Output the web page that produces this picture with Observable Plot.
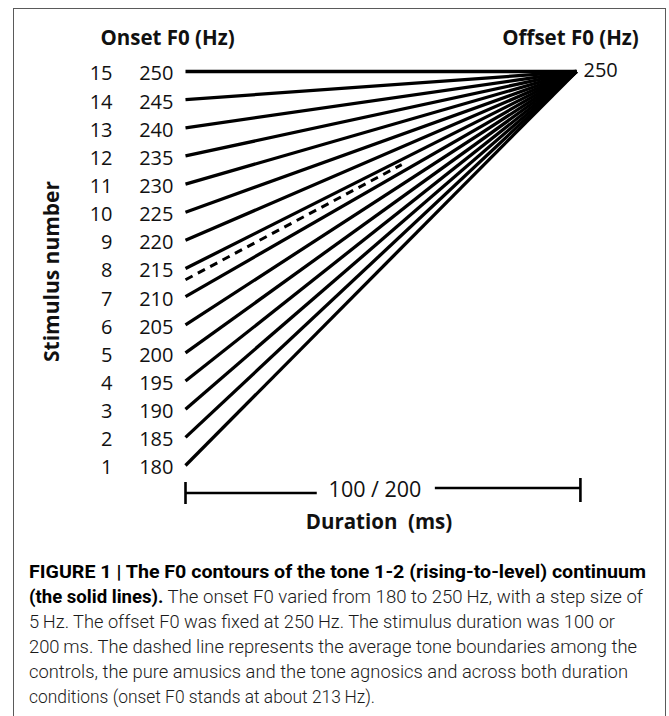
<!DOCTYPE html>
<html><head><meta charset="utf-8">
<script src="https://cdn.jsdelivr.net/npm/d3@7"></script>
<script src="https://cdn.jsdelivr.net/npm/@observablehq/plot@0.6"></script>
<style>
html,body{margin:0;padding:0;background:#fff;width:669px;height:716px;overflow:hidden;}
#frame{position:absolute;left:13px;top:8px;width:651px;height:760px;border:1.5px solid #5a5a5a;border-bottom:none;}
#chart{position:absolute;left:0;top:0;}
#caption{position:absolute;left:29px;top:560px;font-family:Roboto,"Liberation Sans",sans-serif;font-size:18.5px;color:#1a1a1a;white-space:nowrap;}
#caption div{height:25px;line-height:25px;transform-origin:0 50%;width:max-content;}
#caption b{font-weight:700;color:#000}
#caption span{font-weight:300}
</style></head><body>
<div id="frame"></div><div id="chart"></div><div id="caption"></div>
<script>
// ---- data ----
const stimulusNumbers = [1, 2, 3, 4, 5, 6, 7, 8, 9, 10, 11, 12, 13, 14, 15];
const onsetF0 = [180, 185, 190, 195, 200, 205, 210, 215, 220, 225, 230, 235, 240, 245, 250];
const offsetF0 = 250;
const boundaryOnsetF0 = 213;          // dashed line (average tone boundary)
const boundaryEndFraction = 0.553;    // dashed line stops part-way along the duration
const durationLabel = "100 / 200";
const titles = {onset: "Onset F0 (Hz)", offset: "Offset F0 (Hz)", stimulus: "Stimulus number", duration: "Duration  (ms)"};
const captionLines = [
  ["FIGURE 1 | The F0 contours of the tone 1-2 (rising-to-level) continuum", ""],
  ["(the solid lines).", " The onset F0 varied from 180 to 250\u2009Hz, with a step size of"],
  ["", "5\u2009Hz. The offset F0 was fixed at 250\u2009Hz. The stimulus duration was 100 or"],
  ["", "200\u2009ms. The dashed line represents the average tone boundaries among the"],
  ["", "controls, the pure amusics and the tone agnosics and across both duration"],
  ["", "conditions (onset F0 stands at about 213\u2009Hz)."]
];
const captionLineWidths = [617, 614, 586, 608, 599, 346];

// ---- derived tables ----
const contours = stimulusNumbers.map((s, i) => ({stimulus: s, onset: onsetF0[i], offset: offsetF0}));
const dashed = [{
  x1: 0, y1: boundaryOnsetF0,
  x2: boundaryEndFraction, y2: boundaryOnsetF0 + boundaryEndFraction * (offsetF0 - boundaryOnsetF0)
}];
const yMin = d3.min(onsetF0), yMax = d3.max(onsetF0);

const ink = "#111";
const plot = Plot.plot({
  width: 669, height: 560,
  marginLeft: 185, marginRight: 93, marginTop: 71, marginBottom: 95,
  x: {domain: [0, 1], axis: null},
  y: {domain: [yMin, yMax], axis: null},
  style: {fontFamily: "'Open Sans', sans-serif", background: "transparent", overflow: "visible", color: ink},
  marks: [
    Plot.link(contours, {x1: () => 0, y1: "onset", x2: () => 1, y2: "offset", stroke: "#000", strokeWidth: 3.3}),
    Plot.link(dashed, {x1: "x1", y1: "y1", x2: "x2", y2: "y2", stroke: "#000", strokeWidth: 3, strokeDasharray: "8,6"}),
    Plot.text(contours, {x: () => 0, y: "onset", text: d => String(d.stimulus), textAnchor: "end", dx: -73, dy: 2.5, fontSize: 20, fill: ink}),
    Plot.text(contours, {x: () => 0, y: "onset", text: d => String(d.onset), textAnchor: "end", dx: -12, dy: 2.5, fontSize: 20, fill: ink}),
    Plot.text([offsetF0], {x: () => 1, y: d => d, text: d => String(d), textAnchor: "start", dx: 7, dy: -1, fontSize: 20, fill: ink}),
    Plot.text([titles.onset], {x: () => 0, y: () => yMax, text: d => d, dx: -18, dy: -33, fontSize: 20.5, fontWeight: "bold", fill: ink}),
    Plot.text([titles.offset], {x: () => 1, y: () => yMax, text: d => d, dx: -6, dy: -33, fontSize: 20.5, fontWeight: "bold", fill: ink}),
    Plot.text([titles.stimulus], {x: () => 0, y: () => 215, text: d => d, rotate: -90, dx: -133, dy: 3, fontSize: 21, fontWeight: "bold", fill: ink}),
    // duration bracket
    Plot.ruleY([yMin], {y: d => d, x1: () => 0, x2: () => 0.337, dy: 27.5, strokeWidth: 2.6, stroke: "#000"}),
    Plot.ruleY([yMin], {y: d => d, x1: () => 0.639, x2: () => 1.01, dy: 22.5, strokeWidth: 2.6, stroke: "#000"}),
    Plot.tickX([0], {x: d => d, insetTop: 411, insetBottom: -39, strokeWidth: 2.6, stroke: "#000"}),
    Plot.tickX([1.01], {x: d => d, insetTop: 407, insetBottom: -37, strokeWidth: 2.6, stroke: "#000"}),
    Plot.text([durationLabel], {x: () => 0.5, y: () => yMin, text: d => d, dx: -6, dy: 25, fontSize: 21.5, fill: ink}),
    Plot.text([titles.duration], {x: () => 0.5, y: () => yMin, text: d => d, dx: -2, dy: 57, fontSize: 20.5, fontWeight: "bold", fill: ink})
  ]
});
document.getElementById("chart").appendChild(plot);

// ---- caption ----
const cap = document.getElementById("caption");
captionLines.forEach(([b, r], i) => {
  const div = document.createElement("div");
  if (b) { const el = document.createElement("b"); el.textContent = b; div.appendChild(el); }
  if (r) { const el = document.createElement("span"); el.textContent = r; div.appendChild(el); }
  cap.appendChild(div);
  const w = div.getBoundingClientRect().width;
  div.style.transform = `scaleX(${captionLineWidths[i] / w})`;
});
</script>
</body></html>
